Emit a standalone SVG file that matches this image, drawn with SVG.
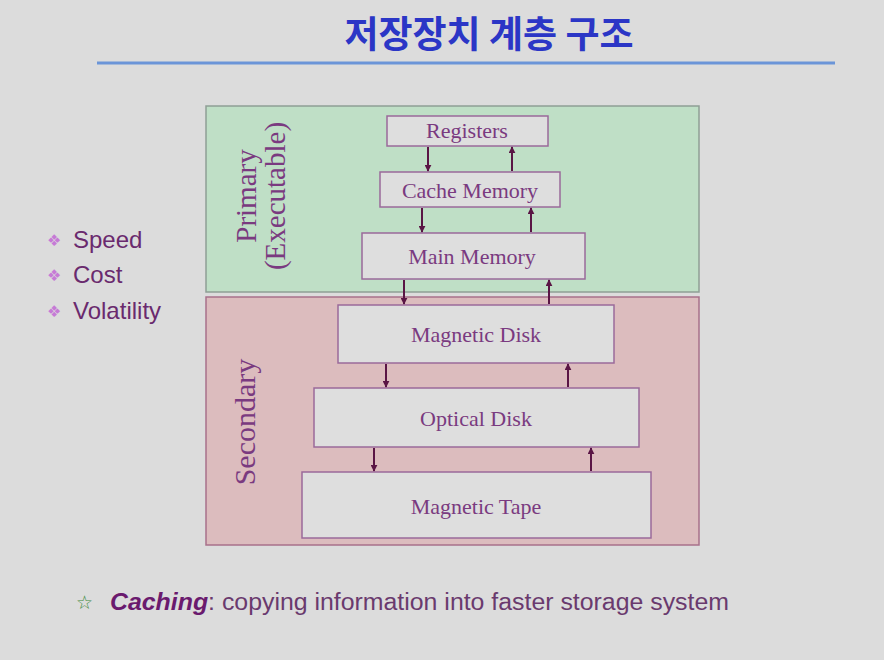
<svg xmlns="http://www.w3.org/2000/svg" width="884" height="660" viewBox="0 0 884 660">
<defs>
<marker id="ah" viewBox="0 0 10 10" refX="9" refY="5" markerWidth="7" markerHeight="7" orient="auto" markerUnits="userSpaceOnUse">
<path d="M0,0 L10,5 L0,10 z" fill="#5a1545"/>
</marker>
<style>
.box{fill:#dedede;stroke:#9a6a9a;stroke-width:1.5}
.lbl{font-family:"Liberation Serif",serif;fill:#7a3a80;text-anchor:middle;font-size:22px}
.side{font-family:"Liberation Serif",serif;fill:#7a3a80;text-anchor:middle}
.bul{font-family:"Liberation Sans",Arial,sans-serif;font-size:24px;fill:#6a2a6e}
.dia{font-family:"DejaVu Sans",sans-serif;font-size:16px;fill:#c67ad6}
.arr{stroke:#5a1545;stroke-width:2;fill:none;marker-end:url(#ah)}
</style>
</defs>
<rect width="884" height="660" fill="#dcdcdc"/>
<text x="489" y="48" font-family="'Noto Sans CJK KR',sans-serif" font-weight="bold" font-size="37" fill="#2b36c6" text-anchor="middle">저장장치 계층 구조</text>
<line x1="97" y1="63" x2="835" y2="63" stroke="#6b95d8" stroke-width="3"/>

<g id="primary">
<rect x="206" y="106" width="493" height="186" fill="#bfdfc6" stroke="#8f9f95" stroke-width="1.5"/>
<text class="side" font-size="29" transform="translate(256,196) rotate(-90)">Primary</text>
<text class="side" font-size="29" transform="translate(285,196) rotate(-90)">(Executable)</text>
</g>
<g id="secondary">
<rect x="206" y="297" width="493" height="248" fill="#dcbcbe" stroke="#a8708a" stroke-width="1.5"/>
<text class="side" font-size="30" transform="translate(255,422) rotate(-90)">Secondary</text>
</g>

<g id="registers"><rect class="box" x="387" y="116" width="161" height="30"/><text class="lbl" x="467" y="138">Registers</text></g>
<g id="cache"><rect class="box" x="380" y="172" width="180" height="35"/><text class="lbl" x="470" y="198">Cache Memory</text></g>
<g id="main"><rect class="box" x="362" y="233" width="223" height="46"/><text class="lbl" x="472" y="264">Main Memory</text></g>
<g id="magdisk"><rect class="box" x="338" y="305" width="276" height="58"/><text class="lbl" x="476" y="342">Magnetic Disk</text></g>
<g id="optical"><rect class="box" x="314" y="388" width="325" height="59"/><text class="lbl" x="476" y="426">Optical Disk</text></g>
<g id="tape"><rect class="box" x="302" y="472" width="349" height="66"/><text class="lbl" x="476" y="514">Magnetic Tape</text></g>

<g id="connectors">
<line class="arr" x1="428" y1="147" x2="428" y2="171"/>
<line class="arr" x1="512" y1="171" x2="512" y2="147"/>
<line class="arr" x1="422" y1="208" x2="422" y2="232"/>
<line class="arr" x1="531" y1="232" x2="531" y2="208"/>
<line class="arr" x1="404" y1="280" x2="404" y2="304"/>
<line class="arr" x1="549" y1="304" x2="549" y2="280"/>
<line class="arr" x1="386" y1="364" x2="386" y2="387"/>
<line class="arr" x1="568" y1="387" x2="568" y2="364"/>
<line class="arr" x1="374" y1="448" x2="374" y2="471"/>
<line class="arr" x1="591" y1="471" x2="591" y2="448"/>
</g>

<g id="bullets">
<text class="dia" x="47" y="246">❖</text>
<text class="bul" x="73" y="248">Speed</text>
<text class="dia" x="47" y="281">❖</text>
<text class="bul" x="73" y="283">Cost</text>
<text class="dia" x="47" y="317">❖</text>
<text class="bul" x="73" y="319">Volatility</text>
</g>

<g id="note">
<text x="76" y="609" font-family="'DejaVu Sans',sans-serif" font-size="19" fill="#3f8a3f">☆</text>
<text x="110" y="610" font-family="'Liberation Sans',Arial,sans-serif" font-size="23" fill="#6a3a6e" textLength="619" lengthAdjust="spacingAndGlyphs"><tspan font-weight="bold" font-style="italic" fill="#6a1a6e">Caching</tspan>: copying information into faster storage system</text>
</g>
</svg>
